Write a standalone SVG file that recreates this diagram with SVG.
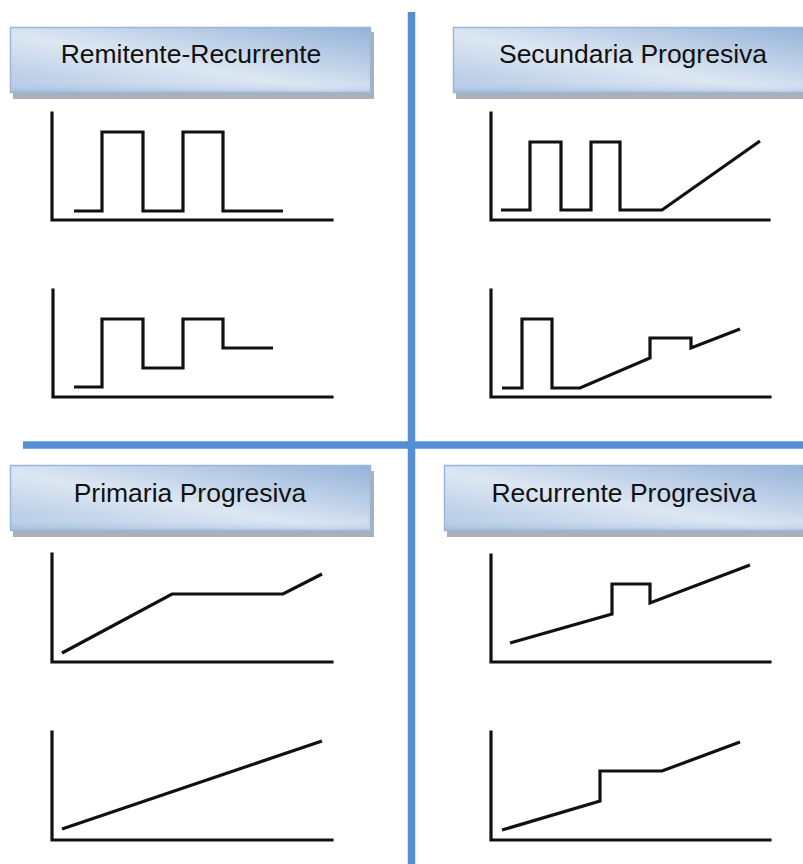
<svg xmlns="http://www.w3.org/2000/svg" width="803" height="864" viewBox="0 0 803 864">
<defs>
<linearGradient id="hg" x1="0" y1="1" x2="1" y2="0">
<stop offset="0" stop-color="#aec6e3"/>
<stop offset="0.45" stop-color="#dde7f3"/>
<stop offset="1" stop-color="#94b2d8"/>
</linearGradient>
<linearGradient id="bev" x1="0" y1="0" x2="0" y2="1">
<stop offset="0" stop-color="#ffffff" stop-opacity="0"/>
<stop offset="0.8" stop-color="#ffffff" stop-opacity="0"/>
<stop offset="1" stop-color="#8aaad4" stop-opacity="0.35"/>
</linearGradient>
</defs>
<style>
.sh{fill:#aab0b8}
.hb{fill:url(#hg);stroke:#9ab6da;stroke-width:1.5}
.bv{fill:url(#bev)}
.ht{font-family:"Liberation Sans",Arial,sans-serif;font-size:26.5px;fill:#111;text-anchor:middle}
.ax{fill:none;stroke:#111;stroke-width:3.2;stroke-linecap:square}
.sg{fill:none;stroke:#111;stroke-width:3.2;stroke-linejoin:miter;stroke-linecap:butt}
.div{stroke:#558ed5;stroke-width:7.5}
</style>
<g id="dividers">
<line class="div" x1="411.5" y1="12" x2="411.5" y2="864"/>
<line class="div" x1="23" y1="445" x2="803" y2="445"/>
</g>
<g id="h1">
<rect class="sh" x="13" y="32" width="361" height="67"/>
<rect class="hb" x="10.5" y="27.5" width="360" height="65"/>
<rect class="bv" x="11" y="28" width="359" height="64"/>
<text class="ht" x="191" y="63">Remitente-Recurrente</text>
</g>
<g id="h2">
<rect class="sh" x="456" y="32" width="360" height="67"/>
<rect class="hb" x="453.5" y="27.5" width="360" height="65"/>
<rect class="bv" x="454" y="28" width="359" height="64"/>
<text class="ht" x="633" y="63">Secundaria Progresiva</text>
</g>
<g id="h3">
<rect class="sh" x="13" y="471" width="361" height="66"/>
<rect class="hb" x="10.5" y="465.5" width="360" height="65"/>
<rect class="bv" x="11" y="466" width="359" height="64"/>
<text class="ht" x="190" y="502">Primaria Progresiva</text>
</g>
<g id="h4">
<rect class="sh" x="447" y="471" width="370" height="66"/>
<rect class="hb" x="444.5" y="465.5" width="370" height="65"/>
<rect class="bv" x="445" y="466" width="369" height="64"/>
<text class="ht" x="624" y="502">Recurrente Progresiva</text>
</g>
<g id="c1">
<path class="ax" d="M52,113 V220 H332"/>
<path class="sg" d="M74,211 H102 V132 H143 V211 H183 V132 H223 V211 H283"/>
</g>
<g id="c2">
<path class="ax" d="M491,113 V220 H769"/>
<path class="sg" d="M501,210 H530 V142 H561 V210 H591 V142 H620 V210 H662 L760,141"/>
</g>
<g id="c3">
<path class="ax" d="M53,290 V397 H332"/>
<path class="sg" d="M74,387 H102 V319 H143 V368 H183 V319 H223 V348 H273"/>
</g>
<g id="c4">
<path class="ax" d="M491,290 V397 H770"/>
<path class="sg" d="M502,388 H522 V319 H552 V388 H580 L650,358 V338 H691 V348 L740,329"/>
</g>
<g id="c5">
<path class="ax" d="M52,554 V662 H332"/>
<path class="sg" d="M62,653 L172,594 H283 L322,574"/>
</g>
<g id="c6">
<path class="ax" d="M491,555 V662 H770"/>
<path class="sg" d="M510,643 L612,614 V584 H650 V603 L750,565"/>
</g>
<g id="c7">
<path class="ax" d="M52,732 V840 H332"/>
<path class="sg" d="M62,829 L322,741"/>
</g>
<g id="c8">
<path class="ax" d="M491,732 V840 H770"/>
<path class="sg" d="M502,830 L600,801 V771 H662 L740,742"/>
</g>
</svg>
